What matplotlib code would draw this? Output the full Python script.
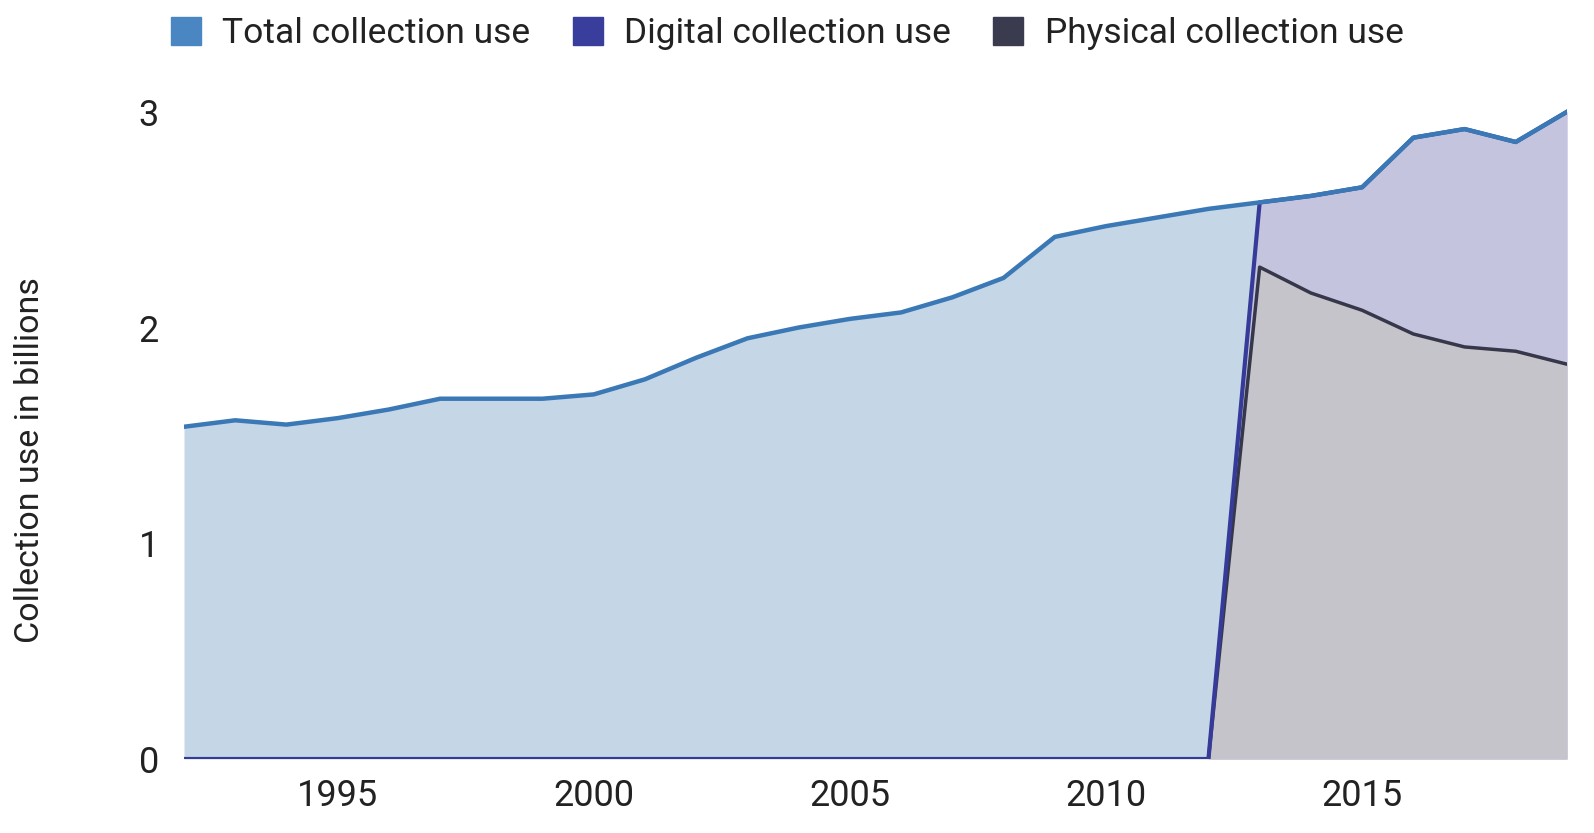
import numpy as np
import matplotlib
matplotlib.use("Agg")
import matplotlib.pyplot as plt
from matplotlib.patches import Patch

plt.rcParams['font.family'] = ['Roboto', 'DejaVu Sans']

years = list(range(1992, 2020))
total = [1.54, 1.57, 1.55, 1.58, 1.62, 1.67, 1.67, 1.67, 1.69, 1.76,
         1.86, 1.95, 2.00, 2.04, 2.07, 2.14, 2.23, 2.42, 2.47, 2.51,
         2.55, 2.58, 2.61, 2.65, 2.88, 2.92, 2.86, 3.00]
# digital / physical split only reported from 2013 on
physical = [0] * 21 + [2.28, 2.16, 2.08, 1.97, 1.91, 1.89, 1.83]
digital = [0] * 21 + [0.30, 0.45, 0.57, 0.91, 1.01, 0.97, 1.17]

labels = ["Total collection use", "Digital collection use", "Physical collection use"]
line_colors = ["#3b78b6", "#363a98", "#36374a"]
fill_colors = ["#c5d6e6", "#c4c4df", "#c5c4cb"]
legend_colors = ["#4a86c2", "#393d9b", "#3b3b50"]

x = np.array(years)
tot = np.array(total)
phys = np.array(physical)
stack = phys + np.array(digital)

fig = plt.figure(figsize=(15.94, 8.33), dpi=100)
ax = fig.add_axes([184 / 1594, 74 / 833, (1567 - 184) / 1594, 658 / 833])

ax.fill_between(x, 0, tot, color=fill_colors[0], lw=0, zorder=1)
ax.fill_between(x, 0, stack, color=fill_colors[1], lw=0, zorder=2)
ax.fill_between(x, 0, phys, color=fill_colors[2], lw=0, zorder=3)
ax.plot(x, phys, color=line_colors[2], lw=2.5, zorder=4, solid_joinstyle='round')
ax.plot(x, stack, color=line_colors[1], lw=3, zorder=5, solid_joinstyle='round')
ax.plot(x, tot, color=line_colors[0], lw=3.2, zorder=6, solid_joinstyle='round')

ax.set_xlim(1992, 2019)
ax.set_ylim(0, 3.05)
ax.set_xticks([1995, 2000, 2005, 2010, 2015])
ax.set_yticks([0, 1, 2, 3])
ax.tick_params(length=0, labelsize=26, labelcolor="#222222")
ax.tick_params(axis='x', pad=14)
ax.tick_params(axis='y', pad=18)
for s in ax.spines.values():
    s.set_visible(False)

ax.set_ylabel("Collection use in billions", fontsize=24.5, color="#222222")
ax.yaxis.set_label_coords(-0.1, 0.455)

handles = [Patch(facecolor=c, edgecolor=c) for c in legend_colors]
fig.legend(handles, labels, loc='upper left', bbox_to_anchor=(0.087, 1.018),
           ncol=3, frameon=False, fontsize=25.5, handlelength=0.85,
           handleheight=0.85, handletextpad=0.6, columnspacing=1.2,
           labelcolor="#222222")

fig.savefig("out.png", dpi=100)
